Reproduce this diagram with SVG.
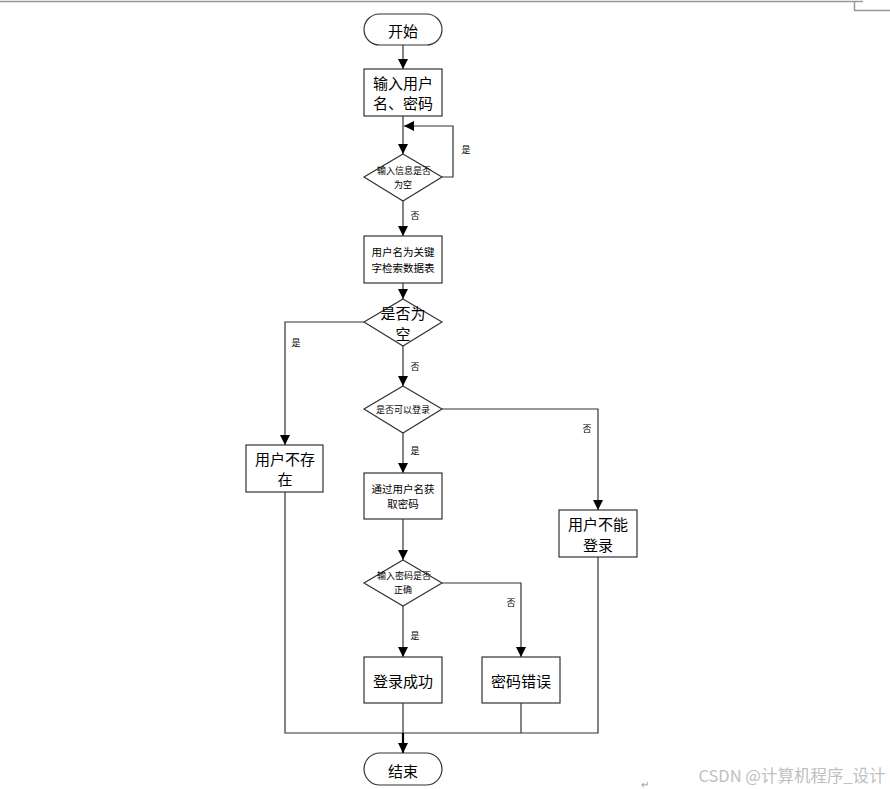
<svg xmlns="http://www.w3.org/2000/svg" width="890" height="789" viewBox="0 0 890 789">
<defs>
<marker id="ah" markerUnits="userSpaceOnUse" markerWidth="10" markerHeight="10" refX="10" refY="5" orient="auto">
<path d="M0,0 L10,5 L0,10 z" fill="#000"/>
</marker>
<style>
.shape{fill:#fff;stroke:#333;stroke-width:1.2}
.ln{fill:none;stroke:#333;stroke-width:1.2}
.arr{marker-end:url(#ah)}
text{font-family:"Noto Sans CJK SC","Liberation Sans",sans-serif;fill:#000;text-anchor:middle;dominant-baseline:central}
.big{font-size:15px}
.mid{font-size:10.5px}
.sm{font-size:9px}
.lab{font-size:9px}
</style>
</defs>
<rect width="890" height="789" fill="#fff"/>
<g id="page" fill="none" stroke="#999" stroke-width="1.5">
<path d="M0,1.5 H863"/>
<path d="M854.5,1.5 V10.5 H890"/>
</g>
<g id="connectors">
<path class="ln arr" d="M403,45 V69"/>
<path class="ln arr" d="M403,116 V154"/>
<path class="ln arr" d="M442,177 H453 V126 H404"/>
<path class="ln arr" d="M403,201 V236"/>
<path class="ln arr" d="M403,283 V299"/>
<path class="ln arr" d="M364,322 H285 V445"/>
<path class="ln arr" d="M403,346 V386"/>
<path class="ln arr" d="M442,409 H598 V510"/>
<path class="ln arr" d="M403,433 V473"/>
<path class="ln arr" d="M403,519 V560"/>
<path class="ln arr" d="M442,583 H521 V657"/>
<path class="ln arr" d="M403,606 V657"/>
<path class="ln" d="M285,492 V733 H598 V557"/>
<path class="ln" d="M521,703 V733"/>
<path class="ln" d="M403,703 V733"/>
<path class="arr" d="M403,733 V753" fill="none" stroke="#000" stroke-width="2.2"/>
<text class="lab" x="466" y="149">是</text>
<text class="lab" x="415" y="215">否</text>
<text class="lab" x="296" y="342">是</text>
<text class="lab" x="415" y="366">否</text>
<text class="lab" x="587" y="428">否</text>
<text class="lab" x="415" y="450">是</text>
<text class="lab" x="511" y="602">否</text>
<text class="lab" x="415" y="635">是</text>
</g>
<g id="start">
<rect class="shape" x="364" y="14" width="78" height="31" rx="15.5"/>
<text class="big" x="403" y="30">开始</text>
</g>
<g id="input">
<rect class="shape" x="364" y="69" width="78" height="47"/>
<text class="big" x="403" y="82">输入用户</text>
<text class="big" x="403" y="102">名、密码</text>
</g>
<g id="d-empty">
<path class="shape" d="M403,154 L442,177 L403,201 L364,177 z"/>
<text class="sm" x="404" y="170.5">输入信息是否</text>
<text class="sm" x="403" y="184">为空</text>
</g>
<g id="search">
<rect class="shape" x="364" y="236" width="78" height="47"/>
<text class="mid" x="403" y="251">用户名为关键</text>
<text class="mid" x="403" y="267">字检索数据表</text>
</g>
<g id="d-null">
<path class="shape" d="M403,299 L442,322 L403,346 L364,322 z"/>
<text class="big" x="403" y="312">是否为</text>
<text class="big" x="403" y="333">空</text>
</g>
<g id="notexist">
<rect class="shape" x="246" y="445" width="77" height="47"/>
<text class="big" x="285" y="458">用户不存</text>
<text class="big" x="285" y="478">在</text>
</g>
<g id="d-login">
<path class="shape" d="M403,386 L442,409 L403,433 L364,409 z"/>
<text class="sm" x="403" y="409">是否可以登录</text>
</g>
<g id="cannot">
<rect class="shape" x="559" y="510" width="78" height="47"/>
<text class="big" x="598" y="523">用户不能</text>
<text class="big" x="598" y="544">登录</text>
</g>
<g id="getpwd">
<rect class="shape" x="364" y="473" width="78" height="46"/>
<text class="mid" x="403" y="488">通过用户名获</text>
<text class="mid" x="403" y="503">取密码</text>
</g>
<g id="d-pwd">
<path class="shape" d="M403,560 L442,583 L403,606 L364,583 z"/>
<text class="sm" x="404" y="575.5">输入密码是否</text>
<text class="sm" x="403" y="589">正确</text>
</g>
<g id="success">
<rect class="shape" x="364" y="657" width="78" height="46"/>
<text class="big" x="403" y="680">登录成功</text>
</g>
<g id="wrong">
<rect class="shape" x="482" y="657" width="78" height="46"/>
<text class="big" x="521" y="680">密码错误</text>
</g>
<g id="end">
<rect class="shape" x="364" y="753" width="78" height="32" rx="16"/>
<text class="big" x="403" y="770">结束</text>
</g>
<g id="watermark">
<text x="645" y="783" style="font-size:10px;fill:#999">↵</text>
<text x="792" y="775" style="font-size:16.5px;fill:#c0c0c0">CSDN @计算机程序_设计</text>
</g>
</svg>
